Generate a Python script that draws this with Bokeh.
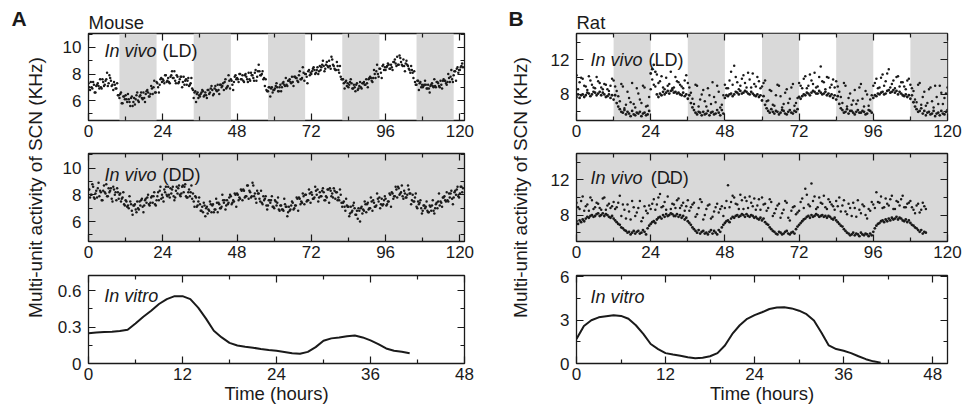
import math
from bokeh.plotting import figure
from bokeh.layouts import row, column
from bokeh.models import Range1d, LinearAxis, Label, BoxAnnotation, FixedTicker, NumeralTickFormatter
from bokeh.embed import file_html
from bokeh.resources import INLINE

FONT = "Liberation Sans"
INK = "#1a1a1a"
GRAY = "#d9d9d9"

# ---------------- data ----------------
# dark phases (hours)
mouse_dark_start = [10, 34, 58, 82, 106]
mouse_dark_end = [22, 46, 70, 94, 118]
rat_dark_start = [12, 36, 60, 84, 108]
rat_dark_end = [24, 48, 72, 96, 120]

# Mouse in vivo LD (KHz): samples on the full and half hour, from 0 h
mouse_ld = [
    7.3, 6.8, 7.0, 7.4, 6.6, 7.1, 7.3, 6.9, 7.0, 7.6, 7.1, 7.5, 8.1, 7.3, 7.7, 7.1, 6.8, 7.2, 6.9, 6.4,
    6.2, 6.6, 5.8, 6.3, 6.4, 5.9, 6.1, 5.6, 6.3, 5.9, 5.7, 6.4, 6.0, 6.3, 6.6, 6.1, 6.2, 6.5, 6.8, 6.3,
    6.5, 6.9, 7.0, 6.6, 7.4, 7.0, 7.2, 7.7, 7.6, 7.3, 7.9, 7.5, 7.4, 7.8, 8.2, 7.7, 7.5, 7.9, 7.3, 7.6,
    7.8, 7.4, 7.2, 7.6, 7.5, 7.1, 7.3, 6.9, 6.2, 6.7, 6.5, 6.2, 6.3, 6.6, 6.7, 6.4, 6.4, 6.8, 6.5, 6.9,
    6.8, 6.5, 7.1, 6.7, 6.8, 7.2, 7.0, 7.3, 7.4, 6.9, 7.1, 7.5, 7.6, 7.2, 7.4, 7.9, 7.7, 7.4, 8.0, 7.6,
    7.5, 7.9, 7.8, 7.4, 7.6, 8.1, 7.9, 7.5, 8.3, 7.8, 8.7, 7.9, 8.0, 7.6, 7.1, 6.8, 6.7, 7.0, 6.9, 6.6,
    6.8, 7.1, 7.0, 6.7, 7.2, 7.0, 7.4, 7.1, 7.2, 7.5, 7.6, 7.3, 7.4, 7.8, 7.7, 7.5, 7.9, 7.6, 7.7, 8.1,
    8.0, 7.8, 8.2, 7.9, 8.0, 8.4, 8.3, 8.1, 8.5, 8.2, 8.3, 8.7, 8.6, 8.4, 8.9, 8.5, 8.6, 9.3, 8.7, 8.4,
    8.3, 8.6, 8.1, 7.8, 7.6, 7.3, 7.4, 7.1, 7.0, 7.4, 7.3, 6.9, 7.0, 7.2, 6.8, 7.1, 7.0, 7.3, 7.4, 7.2,
    7.3, 7.6, 7.8, 7.5, 7.7, 8.0, 8.2, 8.0, 8.4, 8.1, 8.6, 8.3, 8.3, 8.6, 8.7, 8.4, 8.5, 8.9, 9.1, 8.6,
    8.7, 9.4, 8.9, 8.6, 8.6, 8.8, 8.7, 8.4, 8.1, 8.3, 7.7, 7.4, 7.2, 7.5, 7.3, 7.0, 7.0, 7.2, 7.2, 6.9,
    6.9, 7.1, 7.3, 7.0, 7.1, 7.4, 7.3, 7.0, 7.2, 7.5, 7.5, 7.3, 7.4, 7.7, 7.8, 7.6, 7.9, 8.2, 8.4, 8.1,
    8.3, 8.6, 8.5,
]
# Mouse in vivo LD (KHz): samples at quarter past and quarter to, from 0.25 h
mouse_ld_b = [
    7.0, 7.4, 6.9, 7.2, 6.6, 7.2, 7.1, 7.6, 6.9, 7.4, 7.2, 7.6, 7.1, 7.9, 7.5, 7.2, 7.4, 6.9, 7.3, 6.4,
    6.5, 5.8, 6.3, 6.1, 6.1, 6.5, 5.9, 6.2, 5.6, 6.2, 6.1, 6.6, 5.9, 6.4, 6.2, 6.6, 5.9, 6.7, 6.6, 6.3,
    7.1, 6.5, 7.5, 6.6, 7.3, 6.6, 7.6, 7.4, 7.5, 7.9, 7.4, 7.7, 7.3, 7.9, 7.7, 8.2, 7.3, 7.8, 7.4, 7.8,
    7.0, 7.8, 7.5, 7.2, 7.7, 7.2, 7.7, 6.8, 6.6, 5.9, 6.6, 6.4, 6.5, 6.8, 6.3, 6.6, 6.2, 6.8, 6.6, 7.1,
    6.4, 6.9, 6.8, 7.2, 6.5, 7.2, 7.1, 6.8, 7.6, 7.0, 7.9, 6.9, 7.5, 6.8, 7.8, 7.6, 7.6, 8.0, 7.6, 7.9,
    7.4, 8.0, 7.6, 8.1, 7.5, 7.9, 7.7, 8.1, 7.5, 8.2, 8.2, 7.9, 8.2, 7.7, 7.6, 6.7, 7.0, 6.3, 7.0, 6.8,
    6.9, 7.3, 6.7, 7.0, 6.7, 7.3, 7.2, 7.7, 7.1, 7.5, 7.4, 7.8, 7.1, 7.8, 7.7, 7.4, 8.2, 7.6, 8.5, 7.5,
    8.0, 7.3, 8.3, 8.1, 8.2, 8.5, 8.0, 8.3, 8.0, 8.6, 8.5, 9.0, 8.2, 8.7, 8.6, 9.0, 8.4, 9.1, 8.6, 8.3,
    8.9, 8.3, 8.6, 7.6, 7.6, 6.9, 7.5, 7.3, 7.2, 7.6, 6.9, 7.2, 6.7, 7.3, 6.9, 7.4, 6.9, 7.3, 7.2, 7.6,
    7.0, 7.7, 7.7, 7.4, 8.3, 7.7, 8.7, 7.8, 8.4, 7.7, 8.7, 8.5, 8.5, 8.8, 8.4, 8.7, 8.3, 8.9, 8.8, 9.3,
    8.7, 9.2, 8.7, 9.1, 8.2, 9.0, 8.6, 8.3, 8.6, 8.1, 8.2, 7.2, 7.5, 6.8, 7.4, 7.2, 7.1, 7.5, 6.9, 7.2,
    6.6, 7.2, 7.1, 7.6, 7.0, 7.4, 7.1, 7.5, 6.9, 7.6, 7.5, 7.2, 8.0, 7.4, 8.3, 7.4, 8.2, 7.5, 8.5, 8.3,
    8.5, 8.8,
]

# Mouse in vivo DD (KHz): samples on the full and half hour, from 0 h
mouse_dd = [
    8.4, 7.8, 8.0, 8.6, 7.7, 8.3, 8.5, 7.9, 8.2, 7.6, 8.7, 8.1, 7.9, 8.5, 8.3, 7.7, 8.6, 8.0, 7.6, 8.2,
    8.0, 7.5, 7.8, 7.3, 7.6, 7.1, 7.0, 7.5, 6.8, 7.2, 7.3, 6.7, 7.0, 7.5, 7.6, 7.1, 7.2, 7.7, 7.8, 7.3,
    7.4, 7.9, 7.9, 7.3, 7.6, 8.2, 8.3, 7.7, 7.8, 8.4, 8.6, 7.9, 8.0, 8.5, 8.4, 7.9, 7.8, 8.6, 8.5, 8.0,
    8.1, 8.7, 8.6, 7.9, 7.8, 8.4, 8.2, 7.7, 7.5, 7.9, 7.1, 7.5, 7.3, 6.8, 6.7, 7.2, 7.0, 6.6, 6.8, 7.3,
    7.2, 6.7, 6.9, 7.4, 7.4, 7.0, 7.1, 7.6, 7.6, 7.2, 7.3, 7.8, 7.9, 7.4, 7.5, 8.0, 8.1, 7.6, 7.7, 8.3,
    8.4, 7.8, 7.9, 8.7, 8.3, 7.8, 8.9, 7.9, 7.7, 8.3, 8.1, 7.5, 7.4, 7.9, 7.7, 7.2, 7.2, 7.6, 7.6, 7.1,
    7.0, 7.5, 7.4, 6.9, 7.2, 6.9, 6.8, 7.3, 7.1, 6.7, 6.8, 7.2, 7.4, 7.0, 7.2, 7.7, 7.8, 7.3, 7.4, 7.9,
    8.0, 7.5, 7.6, 8.1, 8.2, 7.7, 7.8, 8.3, 8.4, 7.8, 7.9, 8.3, 8.2, 7.6, 7.8, 8.4, 8.5, 7.9, 7.8, 8.3,
    8.2, 7.6, 7.6, 8.0, 7.1, 7.5, 6.8, 7.2, 7.1, 6.6, 6.7, 7.2, 7.0, 6.5, 6.2, 6.8, 7.0, 6.6, 6.8, 7.3,
    7.3, 6.9, 7.0, 7.5, 7.6, 7.1, 7.2, 7.7, 7.8, 7.3, 7.2, 7.6, 7.7, 7.3, 7.5, 8.0, 8.2, 7.7, 7.9, 8.4,
    8.6, 8.0, 8.2, 7.9, 8.3, 7.8, 8.0, 8.4, 8.1, 7.6, 7.5, 7.8, 7.1, 7.5, 7.4, 7.0, 6.8, 7.2, 7.1, 6.8,
    6.7, 7.1, 7.2, 6.8, 7.0, 7.4, 7.5, 7.2, 7.4, 7.8, 7.9, 7.5, 7.6, 8.1, 8.1, 7.7, 7.8, 8.3, 8.4, 7.9,
    8.1, 8.6, 8.5,
]
# Mouse in vivo DD (KHz): samples at quarter past and quarter to, from 0.25 h
mouse_dd_b = [
    8.4, 8.0, 8.8, 7.8, 8.1, 7.8, 8.9, 8.3, 7.6, 8.3, 8.2, 8.8, 7.9, 8.2, 8.5, 7.5, 8.4, 8.2, 8.5, 7.7,
    8.1, 7.7, 8.2, 7.2, 7.5, 7.2, 7.9, 7.3, 6.5, 7.2, 6.9, 7.5, 6.9, 7.2, 7.7, 6.7, 7.6, 7.4, 8.0, 7.2,
    7.8, 7.4, 8.2, 7.2, 7.9, 7.6, 8.6, 8.0, 7.5, 8.2, 8.0, 8.6, 7.8, 8.1, 8.6, 7.6, 8.3, 8.1, 8.7, 7.9,
    8.6, 8.2, 8.8, 7.8, 8.2, 7.9, 8.7, 8.1, 7.1, 7.8, 7.2, 7.8, 6.8, 7.1, 7.4, 6.4, 7.1, 6.9, 7.5, 6.7,
    7.3, 6.9, 7.7, 6.7, 7.3, 7.0, 8.0, 7.4, 6.9, 7.6, 7.4, 8.0, 7.3, 7.6, 8.1, 7.1, 8.0, 7.8, 8.4, 7.6,
    8.3, 7.9, 8.7, 7.7, 8.2, 7.9, 8.7, 8.1, 7.4, 8.1, 7.7, 8.3, 7.3, 7.6, 7.9, 6.9, 7.6, 7.4, 7.9, 7.1,
    7.6, 7.2, 7.8, 6.8, 7.2, 6.9, 7.7, 7.1, 6.4, 7.1, 6.9, 7.5, 6.9, 7.2, 7.8, 6.8, 7.7, 7.5, 8.1, 7.3,
    8.0, 7.6, 8.4, 7.4, 8.0, 7.7, 8.6, 8.0, 7.5, 8.2, 7.9, 8.5, 7.6, 7.9, 8.4, 7.4, 8.3, 8.1, 8.5, 7.7,
    8.2, 7.8, 8.4, 7.4, 7.4, 7.1, 7.7, 7.1, 6.4, 7.1, 6.8, 7.4, 6.5, 6.8, 7.0, 6.0, 7.1, 6.9, 7.5, 6.7,
    7.4, 7.0, 7.8, 6.8, 7.4, 7.1, 8.1, 7.5, 7.0, 7.7, 7.3, 7.9, 7.2, 7.5, 8.1, 7.1, 8.1, 7.9, 8.6, 7.8,
    8.5, 8.1, 8.7, 7.7, 8.1, 7.8, 8.7, 8.1, 7.3, 8.0, 7.5, 8.1, 7.0, 7.3, 7.6, 6.6, 7.2, 7.0, 7.5, 6.7,
    7.2, 6.8, 7.6, 6.6, 7.3, 7.0, 8.1, 7.5, 7.1, 7.8, 7.6, 8.2, 7.5, 7.8, 8.3, 7.3, 8.2, 8.0, 8.6, 7.8,
    8.6, 8.2,
]

# Rat in vivo LD (KHz): dense band, samples every 0.5 h from 0 h
rat_ld_band = [
    7.7, 8.0, 7.6, 7.9, 8.0, 7.7, 7.9, 8.2, 8.1, 7.8, 8.0, 8.3, 8.2, 7.9, 8.1, 8.3, 7.9, 8.2, 8.0, 7.7,
    7.8, 8.0, 7.6, 7.9, 7.4, 7.9, 7.0, 6.6, 6.3, 6.0, 5.9, 6.2, 5.7, 6.0, 5.8, 5.5, 6.1, 5.7, 5.6, 5.9,
    5.8, 6.0, 5.5, 5.8, 5.9, 5.6, 5.7, 6.1, 10.4, 10.9, 11.4, 10.6, 8.0, 7.7, 8.1, 7.9, 8.3, 8.0, 8.2, 8.4,
    8.1, 8.4, 8.5, 8.2, 8.3, 8.1, 8.2, 8.0, 7.9, 8.2, 7.8, 8.0, 7.5, 7.9, 7.0, 6.5, 6.2, 5.9, 5.7, 6.0,
    5.9, 5.6, 6.0, 5.7, 5.8, 6.1, 5.6, 5.9, 6.0, 5.7, 5.8, 6.2, 5.9, 5.6, 6.2, 5.8, 7.6, 7.9, 7.8, 8.0,
    8.1, 7.8, 8.0, 8.3, 8.2, 8.0, 8.4, 8.1, 8.2, 8.4, 8.3, 8.1, 8.0, 8.3, 8.1, 7.9, 7.8, 8.0, 7.7, 7.9,
    7.3, 7.8, 6.8, 6.4, 6.1, 5.9, 6.3, 6.0, 5.8, 6.1, 6.0, 5.7, 5.9, 6.2, 6.1, 5.8, 5.7, 6.0, 6.2, 5.9,
    5.8, 6.1, 6.0, 6.3, 7.7, 7.5, 7.8, 8.0, 7.9, 8.2, 8.1, 7.9, 8.2, 8.4, 8.3, 8.1, 8.1, 8.4, 8.2, 8.0,
    8.1, 8.3, 7.9, 8.1, 7.8, 8.0, 7.6, 7.9, 7.4, 7.8, 6.9, 6.4, 6.2, 5.9, 6.0, 6.3, 5.8, 6.1, 6.1, 5.9,
    5.7, 6.0, 6.2, 5.9, 5.9, 6.1, 6.0, 5.7, 5.8, 6.2, 6.1, 5.9, 7.6, 7.9, 7.8, 8.1, 8.0, 8.2, 8.3, 8.0,
    8.1, 8.4, 8.5, 8.2, 8.3, 8.5, 8.2, 8.4, 8.0, 8.3, 8.1, 7.9, 7.8, 8.0, 7.7, 7.9, 7.5, 7.9, 7.1, 6.6,
    6.3, 6.0, 6.1, 6.4, 5.8, 6.1, 5.6, 5.9, 6.0, 5.7, 5.8, 6.1, 5.5, 5.8, 5.9, 5.6, 6.1, 5.8, 5.7, 6.0,
    6.2,
]
# Rat in vivo LD (KHz): scattered upper points, on the hour from 0 h
rat_ld_scatter = [
    10.2, 9.4, 9.8, 8.9, 10.1, 9.1, 8.7, 9.5, 8.8, 9.2, 8.6, 9.0,
    9.6, 8.4, 7.2, 8.9, 6.8, 7.6, 9.3, 6.5, 8.1, 7.0, 8.8, 6.7,
    8.6, 9.1, 10.3, 9.5, 8.8, 9.9, 9.2, 8.7, 10.0, 9.4, 8.9, 9.6,
    9.3, 8.2, 6.9, 9.0, 7.4, 8.5, 6.6, 7.9, 9.4, 7.1, 8.3, 6.8,
    9.1, 8.7, 10.6, 11.3, 9.4, 9.0, 10.2, 8.8, 9.7, 10.4, 8.9, 9.5,
    8.9, 9.6, 7.3, 8.4, 6.7, 9.1, 7.8, 6.9, 8.6, 7.5, 9.2, 7.0,
    9.3, 8.7, 10.1, 9.0, 9.6, 10.5, 8.9, 11.2, 9.4, 10.0, 8.8, 9.7,
    9.5, 8.3, 7.0, 9.0, 7.6, 6.8, 8.5, 7.3, 9.2, 6.6, 8.0, 7.4,
    9.0, 9.8, 8.8, 10.3, 9.5, 10.9, 9.2, 8.7, 10.1, 9.4, 8.9, 9.6,
    9.1, 8.4, 7.1, 9.3, 7.7, 6.7, 8.6, 7.2, 9.0, 6.9, 8.2, 7.6, 8.8,
]
# Rat in vivo LD (KHz): scattered upper points, on the half hour from 0.5 h
rat_ld_scatter_b = [
    8.6, 9.9, 9.0, 8.5, 9.6, 8.8, 10.0, 9.3, 8.6, 9.1, 8.4, 9.8,
    8.9, 7.8, 9.2, 6.4, 8.3, 7.1, 6.9, 8.7, 7.4, 9.0, 6.6, 7.7,
    9.7, 8.9, 9.3, 10.1, 8.6, 9.0, 10.6, 8.8, 9.5, 9.1, 8.7, 10.2,
    8.8, 7.5, 9.1, 6.6, 8.0, 7.2, 8.7, 6.9, 7.7, 9.0, 6.5, 7.9,
    8.7, 9.6, 9.1, 10.0, 8.6, 9.8, 9.3, 10.5, 8.8, 9.2, 10.0, 8.7,
    9.3, 7.2, 8.5, 6.8, 7.9, 9.0, 6.5, 8.2, 7.0, 8.8, 6.7, 7.6,
    9.0, 9.8, 8.7, 10.3, 9.2, 8.8, 10.0, 9.5, 8.6, 9.9, 9.1, 8.8,
    8.9, 7.7, 9.3, 6.6, 8.1, 7.3, 6.9, 8.8, 7.5, 8.4, 6.7, 7.9,
    9.3, 8.7, 9.9, 9.0, 10.4, 8.8, 9.6, 10.0, 8.9, 9.4, 8.6, 9.8,
    8.7, 7.4, 9.1, 6.8, 8.3, 7.0, 8.8, 6.5, 7.7, 9.0, 6.9, 8.1,
]

# Rat in vivo DD (KHz): dense band, samples every 0.5 h from 0 h to 113 h
rat_dd_band = [
    7.3, 7.0, 7.4, 7.2, 7.5, 7.3, 7.6, 7.8, 7.7, 7.9, 8.0, 7.8, 7.9, 8.1, 8.2, 7.9, 8.0, 8.2, 7.9, 8.1,
    8.0, 7.8, 7.7, 7.9, 7.6, 7.4, 7.2, 7.0, 6.9, 6.6, 6.5, 6.3, 6.2, 6.0, 6.1, 5.8, 6.0, 6.2, 5.9, 6.1,
    6.2, 5.9, 6.0, 6.3, 6.1, 5.8, 6.5, 6.8, 7.0, 7.2, 7.3, 7.1, 7.5, 7.7, 7.8, 7.6, 8.0, 7.8, 8.1, 7.9,
    8.0, 8.2, 8.1, 7.9, 7.9, 8.1, 7.8, 8.0, 7.7, 7.9, 7.5, 7.7, 7.3, 7.1, 6.9, 6.6, 6.4, 6.2, 6.0, 6.3,
    5.9, 6.1, 6.2, 5.9, 6.0, 5.8, 6.1, 6.3, 5.9, 6.2, 6.0, 5.8, 6.3, 6.1, 6.6, 6.9, 7.1, 7.3, 7.4, 7.2,
    7.6, 7.8, 7.7, 7.9, 8.0, 7.8, 7.9, 8.1, 8.0, 7.8, 8.1, 7.9, 7.8, 8.0, 7.9, 7.7, 7.8, 7.6, 7.5, 7.7,
    7.4, 7.6, 7.2, 7.0, 6.9, 6.6, 6.4, 6.2, 6.1, 5.9, 5.8, 6.1, 6.0, 5.8, 5.9, 6.1, 6.2, 5.9, 5.8, 6.0,
    6.1, 5.9, 6.4, 6.7, 6.9, 7.1, 7.3, 7.5, 7.6, 7.8, 7.9, 7.7, 8.0, 7.8, 7.9, 8.1, 8.0, 7.8, 7.9, 8.0,
    7.8, 7.9, 7.7, 7.9, 7.8, 7.6, 7.5, 7.7, 7.4, 7.2, 7.0, 6.8, 6.7, 6.4, 6.2, 6.0, 5.9, 5.7, 5.8, 6.0,
    5.7, 5.9, 5.8, 5.6, 6.0, 5.8, 5.7, 5.9, 5.8, 5.6, 5.9, 5.7, 6.1, 6.5, 6.8, 7.0, 7.1, 7.3, 7.4, 7.2,
    7.5, 7.3, 7.6, 7.4, 7.7, 7.5, 7.6, 7.8, 7.5, 7.7, 7.6, 7.4, 7.3, 7.5, 7.2, 7.4, 7.1, 6.9, 6.8, 6.6,
    6.5, 6.3, 6.1, 6.3, 5.9, 6.1, 6.0,
]
# Rat in vivo DD (KHz): scattered upper points, on the hour from 0 h to 113 h
rat_dd_scatter = [
    9.4, 8.7, 10.1, 9.0, 8.5, 9.7, 8.9, 9.3, 8.6, 10.0, 9.1, 8.8,
    9.5, 8.9, 10.2, 9.2, 7.6, 8.4, 9.6, 7.9, 8.8, 7.3, 9.0, 8.2,
    8.7, 9.8, 9.2, 10.4, 9.0, 8.6, 11.8, 9.3, 8.8, 9.9, 9.1, 8.5,
    9.7, 8.9, 9.4, 8.1, 9.8, 7.5, 8.7, 9.2, 7.8, 8.9, 8.3, 9.0,
    8.8, 11.4, 9.5, 10.0, 9.2, 10.3, 8.7, 9.6, 10.1, 9.0, 8.6, 9.8,
    10.0, 9.3, 8.8, 9.5, 8.2, 9.1, 7.7, 8.6, 9.4, 7.4, 8.9, 8.1,
    8.5, 9.9, 11.0, 9.2, 11.6, 10.1, 8.9, 9.4, 10.2, 8.7, 9.5, 9.0,
    9.6, 10.0, 9.1, 8.4, 9.3, 7.9, 8.8, 9.7, 8.2, 9.0, 7.6, 8.5,
    9.2, 10.6, 9.4, 8.8, 9.9, 9.1, 10.2, 8.7, 9.5, 9.8, 8.9, 9.3,
    9.6, 8.6, 9.1, 8.3, 9.4, 8.7,
]
# Rat in vivo DD (KHz): scattered upper points, on the half hour from 0.5 h to 112.5 h
rat_dd_scatter_b = [
    8.9, 9.6, 8.5, 9.2, 10.0, 8.7, 9.4, 8.8, 9.9, 8.6, 9.3, 9.0,
    8.7, 9.4, 7.9, 8.6, 9.2, 7.5, 8.9, 8.3, 9.6, 7.7, 8.5, 9.1,
    9.3, 8.6, 10.0, 8.9, 9.5, 10.1, 8.7, 9.2, 9.7, 8.8, 9.4, 9.0,
    8.5, 9.2, 7.8, 8.8, 9.5, 8.0, 9.1, 7.6, 8.4, 9.3, 8.7, 7.9,
    9.6, 8.9, 10.2, 9.3, 8.7, 9.7, 10.0, 8.8, 9.4, 9.9, 9.1, 8.6,
    9.2, 8.5, 9.8, 7.9, 8.7, 9.3, 8.2, 9.6, 7.7, 8.5, 9.0, 8.3,
    9.5, 8.8, 10.3, 9.0, 9.6, 8.7, 10.0, 9.3, 8.9, 9.8, 9.2, 8.6,
    9.0, 8.4, 9.7, 8.1, 8.8, 9.4, 7.8, 8.6, 9.2, 8.0, 8.7, 9.5,
    8.8, 9.5, 10.1, 8.9, 9.3, 9.8, 8.7, 9.6, 9.1, 10.2, 8.9, 9.4,
    8.9, 8.2, 9.3, 8.6, 9.0,
]

# In vitro recordings, one value per hour from 0 h
mouse_vitro = [
    0.25, 0.255, 0.26, 0.262, 0.268, 0.278, 0.33, 0.385, 0.435, 0.49, 0.53, 0.555, 0.555, 0.53,
    0.46, 0.37, 0.27, 0.215, 0.17, 0.148, 0.138, 0.13, 0.12, 0.112, 0.105, 0.095, 0.085, 0.08,
    0.096, 0.135, 0.187, 0.207, 0.215, 0.225, 0.23, 0.215, 0.19, 0.16, 0.124, 0.105, 0.096, 0.085,
]
rat_vitro = [
    1.7, 2.6, 3.0, 3.2, 3.28, 3.35, 3.3, 3.1, 2.65, 2.05, 1.35, 1.0, 0.72, 0.62, 0.53, 0.43,
    0.37, 0.4, 0.5, 0.72, 1.25, 2.05, 2.65, 3.1, 3.35, 3.55, 3.78, 3.88, 3.9, 3.82, 3.66, 3.42,
    2.98, 2.15, 1.25, 1.0, 0.88, 0.72, 0.5, 0.3, 0.15, 0.06,
]

invivo_x_ticks = [0, 24, 48, 72, 96, 120]
invivo_x_minor = [12, 36, 60, 84, 108]
invitro_x_ticks = [0, 12, 24, 36, 48]
invitro_x_minor = [6, 18, 30, 42]
mouse_y_ticks = [6, 8, 10]
mouse_y_minor = [5, 7, 9, 11]
rat_y_ticks = [8, 12]
rat_y_minor = [6, 10, 14]
mouse_vitro_y_ticks = [0, 0.3, 0.6]
mouse_vitro_y_minor = [0.15, 0.45]
rat_vitro_y_ticks = [0, 3, 6]
rat_vitro_y_minor = [1.5, 4.5]

Y_LABEL = "Multi-unit activity of SCN (KHz)"
X_LABEL = "Time (hours)"


def times(vals, start, step):
    return [start + i * step for i in range(len(vals))]


def style_axis(ax, show_labels, fmt=None):
    ax.axis_line_color = None
    ax.major_tick_in = 7
    ax.major_tick_out = 0
    ax.minor_tick_in = 4
    ax.minor_tick_out = 0
    ax.major_tick_line_color = INK
    ax.minor_tick_line_color = INK
    ax.major_tick_line_width = 1.2
    ax.minor_tick_line_width = 1.2
    if fmt is not None:
        ax.formatter = fmt
    if show_labels:
        ax.major_label_text_font = FONT
        ax.major_label_text_font_size = "17px"
        ax.major_label_text_color = INK
    else:
        ax.major_label_text_font_size = "1px"
        ax.major_label_text_alpha = 0
        ax.major_label_standoff = 0


def panel(fw, fh, left, right, top, bottom, xr, yr, xt, xm, yt, ym, yfmt=None, bg="white",
          xlabel=None, title=None):
    p = figure(frame_width=fw, frame_height=fh, min_border_left=left, min_border_right=right,
               min_border_top=top, min_border_bottom=bottom,
               x_range=Range1d(*xr), y_range=Range1d(*yr),
               x_axis_location=None, y_axis_location=None,
               output_backend="svg", toolbar_location=None)
    p.xgrid.visible = False
    p.ygrid.visible = False
    p.background_fill_color = bg
    p.border_fill_color = "white"
    p.outline_line_color = INK
    p.outline_line_width = 1.3
    for loc in ("below", "above"):
        ax = LinearAxis(ticker=FixedTicker(ticks=xt, minor_ticks=xm))
        style_axis(ax, loc == "below")
        if loc == "below":
            ax.major_label_standoff = 4
            if xlabel:
                ax.axis_label = xlabel
                ax.axis_label_text_font = FONT
                ax.axis_label_text_font_size = "18.5px"
                ax.axis_label_text_font_style = "normal"
                ax.axis_label_text_color = INK
                ax.axis_label_standoff = 0
        p.add_layout(ax, loc)
    for loc in ("left", "right"):
        ax = LinearAxis(ticker=FixedTicker(ticks=yt, minor_ticks=ym))
        style_axis(ax, loc == "left", yfmt if loc == "left" else None)
        if loc == "left":
            ax.major_label_standoff = 7
        p.add_layout(ax, loc)
    if title:
        p.title.text = title
        p.title.align = "left"
        p.title.text_font = FONT
        p.title.text_font_size = "18.5px"
        p.title.text_font_style = "normal"
        p.title.text_color = INK
        p.title.standoff = 1
        p.title.offset = 0
    return p


def txt(p, x, y, s, italic=False):
    p.add_layout(Label(x=x, y=y, text=s, text_font=FONT,
                       text_font_style="italic" if italic else "normal",
                       text_font_size="18px", text_color=INK, text_baseline="alphabetic"))


def dark_bands(p, starts, ends):
    for s, e in zip(starts, ends):
        p.add_layout(BoxAnnotation(left=s, right=e, fill_color=GRAY, fill_alpha=1.0,
                                   line_color=None, level="underlay"))


def dots(p, x, y, size=2.5):
    p.scatter(x, y, size=size, marker="circle", fill_color=INK, line_color=None)


# ---------------- Mouse column ----------------
M_FW, M_L, M_R = 376, 36, 18
mouse_xr = (0, 121.5)

m1 = panel(M_FW, 87, M_L, M_R, 33, 27, mouse_xr, (4.5, 11.05), invivo_x_ticks, invivo_x_minor,
           mouse_y_ticks, mouse_y_minor, title="Mouse")
dark_bands(m1, mouse_dark_start, mouse_dark_end)
dots(m1, times(mouse_ld, 0, 0.5), mouse_ld)
dots(m1, times(mouse_ld_b, 0.25, 0.5), mouse_ld_b)
txt(m1, 5.2, 9.73, "In vivo", italic=True)
txt(m1, 23.9, 9.73, "(LD)")

m2 = panel(M_FW, 88, M_L, M_R, 6, 26, mouse_xr, (4.5, 11.1), invivo_x_ticks, invivo_x_minor,
           mouse_y_ticks, mouse_y_minor, bg=GRAY)
dots(m2, times(mouse_dd, 0, 0.5), mouse_dd)
dots(m2, times(mouse_dd_b, 0.25, 0.5), mouse_dd_b)
txt(m2, 5.2, 9.52, "In vivo", italic=True)
txt(m2, 23.9, 9.52, "(DD)")

m3 = panel(M_FW, 88, M_L, M_R, 8, 45, (0, 48), (0, 0.725), invitro_x_ticks, invitro_x_minor,
           mouse_vitro_y_ticks, mouse_vitro_y_minor, yfmt=NumeralTickFormatter(format="0.[0]"),
           xlabel=X_LABEL)
m3.line(times(mouse_vitro, 0, 1), mouse_vitro, line_width=2.0, line_color=INK)
txt(m3, 2.0, 0.555, "In vitro", italic=True)

# ---------------- Rat column ----------------
R_FW, R_L, R_R = 371, 34, 15
rat_xr = (0, 120)
rat_yr = (5, 15)

r1 = panel(R_FW, 87, R_L, R_R, 33, 27, rat_xr, rat_yr, invivo_x_ticks, invivo_x_minor,
           rat_y_ticks, rat_y_minor, title="Rat")
dark_bands(r1, rat_dark_start, rat_dark_end)
dots(r1, times(rat_ld_band, 0, 0.5), rat_ld_band, size=2.8)
dots(r1, times(rat_ld_scatter, 0, 1), rat_ld_scatter)
dots(r1, times(rat_ld_scatter_b, 0.5, 1), rat_ld_scatter_b)
txt(r1, 4.5, 11.93, "In vivo", italic=True)
txt(r1, 23.3, 11.93, "(LD)")

r2 = panel(R_FW, 88, R_L, R_R, 6, 26, rat_xr, rat_yr, invivo_x_ticks, invivo_x_minor,
           rat_y_ticks, rat_y_minor, bg=GRAY)
dots(r2, times(rat_dd_band, 0, 0.5), rat_dd_band, size=2.8)
dots(r2, times(rat_dd_scatter, 0, 1), rat_dd_scatter)
dots(r2, times(rat_dd_scatter_b, 0.5, 1), rat_dd_scatter_b)
txt(r2, 4.5, 12.16, "In vivo", italic=True)
txt(r2, 24, 12.16, "(DD)")

r3 = panel(R_FW, 88, R_L, R_R, 8, 45, (0, 50), (0, 6.1), invitro_x_ticks, invitro_x_minor,
           rat_vitro_y_ticks, rat_vitro_y_minor, xlabel=X_LABEL)
r3.line(times(rat_vitro, 0, 1), rat_vitro, line_width=2.0, line_color=INK)
txt(r3, 1.9, 4.6, "In vitro", italic=True)

TOTAL_H = 147 + 120 + 141


# ---------------- side label strips ----------------
def strip(w, letter, letter_x, label_x):
    s = figure(width=w, height=TOTAL_H, x_range=Range1d(0, w), y_range=Range1d(0, TOTAL_H),
               title=None, min_border=0, min_border_top=0, min_border_bottom=0,
               min_border_left=0, min_border_right=0,
               x_axis_location=None, y_axis_location=None,
               output_backend="svg", toolbar_location=None)
    s.xgrid.visible = False
    s.ygrid.visible = False
    s.outline_line_color = None
    s.add_layout(Label(x=letter_x, y=TOTAL_H - 18, text=letter, text_font=FONT,
                       text_font_style="bold", text_font_size="21px", text_color=INK,
                       text_baseline="alphabetic"))
    s.add_layout(Label(x=label_x, y=TOTAL_H - 187, text=Y_LABEL, text_font=FONT,
                       text_font_size="19px", text_color=INK, text_align="center",
                       text_baseline="middle", angle=math.pi / 2))
    return s


sA = strip(52, "A", 11, 35)
sB = strip(60, "B", 26, 38)

layout = row(sA, column(m1, m2, m3), sB, column(r1, r2, r3))

with open("out.html", "w") as f:
    f.write(file_html(layout, INLINE))
